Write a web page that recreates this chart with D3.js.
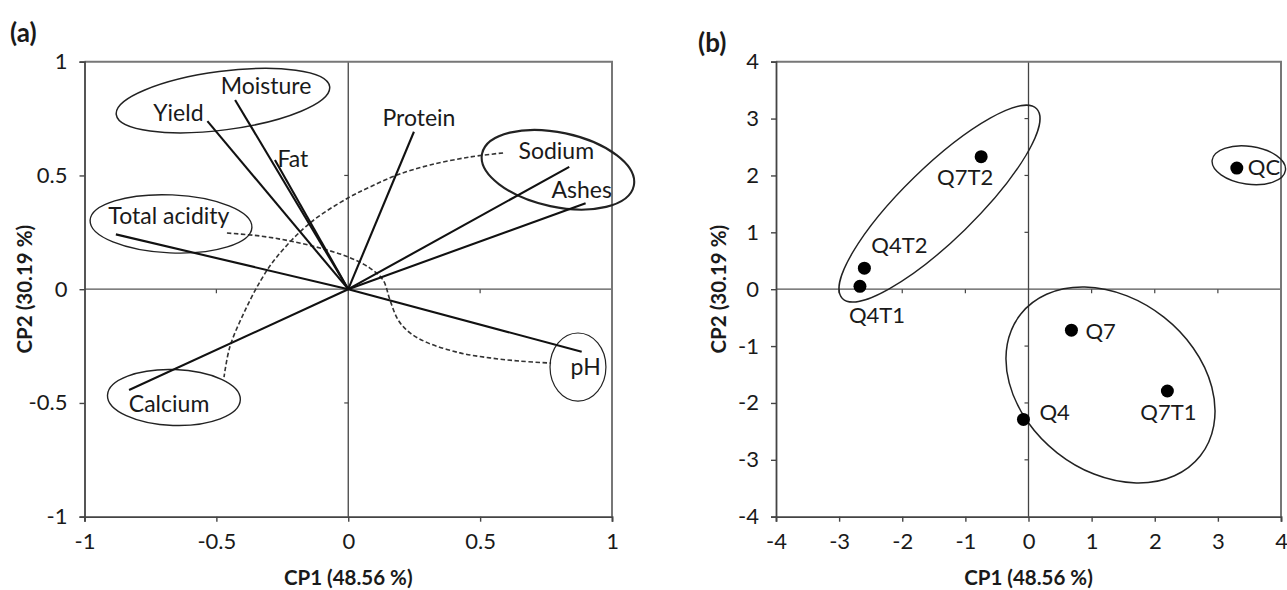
<!DOCTYPE html>
<html><head><meta charset="utf-8">
<script src="https://cdn.jsdelivr.net/npm/d3@7"></script>
<style>
html,body{margin:0;padding:0;background:#fff;}
svg{display:block;font-family:Lato,"Open Sans",sans-serif;}
</style></head>
<body>
<svg id="c" width="1287" height="590"></svg>
<script>
// ---------- Panel (a): variable loadings ----------
const variables = ["Yield","Moisture","Fat","Protein","Sodium","Ashes","Total acidity","Calcium","pH"];
const cp1Load = [-0.534,-0.429,-0.278,0.249,0.838,0.900,-0.881,-0.831,0.885];
const cp2Load = [0.739,0.832,0.568,0.692,0.538,0.378,0.241,-0.443,-0.275];
// label offsets (px) from vector tips
const labelOffA = [[-29,-8],[31,-14],[18,-1],[5,-14],[-13,-16],[-4,-13],[53,-18],[40,14],[4,15]];
const ticksA = [-1,-0.5,0,0.5,1];
const tickLabelsA = ["-1","-0.5","0","0.5","1"];

// group ellipses in panel (a): centre (data), semi-axes (data units), rotation (deg)
const ellA_cx = [-0.475,-0.672,0.795,-0.661,0.871];
const ellA_cy = [0.829,0.287,0.525,-0.476,-0.342];
const ellA_rx = [0.408,0.307,0.294,0.252,0.106];
const ellA_ry = [0.111,0.110,0.141,0.106,0.129];
const ellA_rot = [-7.5,2.5,12,2,0];

// dashed connectors (data coordinates)
const dash1X = [0.587,0.461,0.310,0.185,0.082,-0.001,-0.145,-0.271,-0.331,-0.396,-0.449,-0.471];
const dash1Y = [0.599,0.581,0.546,0.502,0.449,0.401,0.291,0.142,0.040,-0.105,-0.254,-0.386];
const dash2X = [-0.460,-0.335,-0.221,-0.107,-0.001,0.082,0.132,0.158,0.189,0.234,0.302,0.424,0.537,0.651,0.769];
const dash2Y = [0.247,0.234,0.212,0.181,0.142,0.093,0.040,-0.047,-0.135,-0.192,-0.236,-0.280,-0.302,-0.316,-0.325];

// ---------- Panel (b): sample scores ----------
const samples = ["Q7T2","Q4T2","Q4T1","QC","Q7","Q7T1","Q4"];
const cp1Score = [-0.75,-2.60,-2.67,3.30,0.68,2.20,-0.08];
const cp2Score = [2.33,0.37,0.05,2.13,-0.72,-1.79,-2.29];
const labelOffB = [[-16,21,"middle"],[35,-23,"middle"],[17,29,"middle"],[11,-1,"start"],[14,1,"start"],[1,21,"middle"],[16,-7,"start"]];
const ticksB = [-4,-3,-2,-1,0,1,2,3,4];
const tickLabelsB = ["-4","-3","-2","-1","0","1","2","3","4"];

const ellB_cx = [-1.41,1.299,3.49];
const ellB_cy = [1.505,-1.684,2.18];
const ellB_rx = [2.15,1.812,0.586];
const ellB_ry = [0.577,1.367,0.30];
const ellB_rot = [-44.3,38.2,8];

const xTitle = "CP1 (48.56 %)";
const yTitle = "CP2 (30.19 %)";

const svg = d3.select("#c");
const TXT = "#1a1a1a";

function panel(opts){
  const {x, y, ticks, tickLabels, tag, tagX, tagY, ytX} = opts;
  const g = svg.append("g");
  const [x0,x1] = x.range(), [y0,y1] = y.range(); // y0 bottom, y1 top
  // zero lines
  g.append("line").attr("x1",x0).attr("x2",x1).attr("y1",y(0)).attr("y2",y(0))
    .attr("stroke","#555").attr("stroke-width",1.3);
  g.append("line").attr("x1",x(0)).attr("x2",x(0)).attr("y1",y0).attr("y2",y1)
    .attr("stroke","#444").attr("stroke-width",1.3);
  // ticks on zero lines
  ticks.forEach(t=>{
    if(t===0||t===ticks[0]||t===ticks[ticks.length-1]) return;
    g.append("line").attr("x1",x(t)).attr("x2",x(t)).attr("y1",y(0)).attr("y2",y(0)+4)
      .attr("stroke","#444").attr("stroke-width",1.2);
    g.append("line").attr("x1",x(0)-4).attr("x2",x(0)).attr("y1",y(t)).attr("y2",y(t))
      .attr("stroke","#444").attr("stroke-width",1.2);
  });
  // frame: top & right (plot border)
  g.append("path").attr("d",`M${x0},${y1}H${x1}V${y0}`).attr("fill","none")
    .attr("stroke","#777").attr("stroke-width",2);
  // left & bottom axes via d3 axes
  const ax = d3.axisBottom(x).tickValues(ticks).tickFormat((d,i)=>tickLabels[i]).tickSizeOuter(0).tickSize(5).tickPadding(12);
  const ay = d3.axisLeft(y).tickValues(ticks).tickFormat((d,i)=>tickLabels[i]).tickSizeOuter(0).tickSize(5).tickPadding(12);
  const gx = g.append("g").attr("transform",`translate(0,${y0})`).call(ax);
  const gy = g.append("g").attr("transform",`translate(${x0},0)`).call(ay);
  [gx,gy].forEach(a=>{
    a.select(".domain").attr("stroke","#444").attr("stroke-width",1.8);
    a.selectAll(".tick line").attr("stroke","#444").attr("stroke-width",1.4);
    a.selectAll(".tick text").attr("fill",TXT).style("font-size","22px").style("font-family","Lato");
  });
  gx.selectAll(".tick text").attr("dy","0.71em");
  // titles
  g.append("text").attr("x",(x0+x1)/2).attr("y",585).attr("text-anchor","middle")
    .style("font-weight","bold").style("font-size","20.5px").attr("fill",TXT).text(xTitle);
  g.append("text").attr("transform",`translate(${ytX},${(y0+y1)/2}) rotate(-90)`)
    .attr("text-anchor","middle").attr("dy","0.35em")
    .style("font-weight","bold").style("font-size","20.5px").attr("fill",TXT).text(yTitle);
  g.append("text").attr("x",tagX).attr("y",tagY).style("font-weight","bold")
    .style("font-size","26px").attr("fill",TXT).text(tag);
  return g;
}

function ellipses(g, x, y, cx, cy, rx, ry, rot, sw){
  const unit = x(1)-x(0);
  cx.forEach((c,i)=>{
    g.append("ellipse").attr("cx",0).attr("cy",0)
      .attr("rx",rx[i]*unit).attr("ry",ry[i]*unit)
      .attr("transform",`translate(${x(c)},${y(cy[i])}) rotate(${rot[i]})`)
      .attr("fill","none").attr("stroke","#222").attr("stroke-width",sw[i]);
  });
}

// ----- Panel a -----
const xa = d3.scaleLinear().domain([-1,1]).range([84.5,612]);
const ya = d3.scaleLinear().domain([-1,1]).range([516.7,61.7]);
const ga = panel({x:xa,y:ya,ticks:ticksA,tickLabels:tickLabelsA,tag:"(a)",tagX:10,tagY:42,ytX:25});

const lineGen = d3.line().curve(d3.curveCatmullRom.alpha(0.5));
[[dash1X,dash1Y],[dash2X,dash2Y]].forEach(([dx,dy])=>{
  ga.append("path").attr("d",lineGen(dx.map((v,i)=>[xa(v),ya(dy[i])])))
    .attr("fill","none").attr("stroke","#333").attr("stroke-width",1.6)
    .attr("stroke-dasharray","4.5,2.5");
});
ellipses(ga, xa, ya, ellA_cx, ellA_cy, ellA_rx, ellA_ry, ellA_rot, [1.5,1.4,2.1,1.4,1.2]);

variables.forEach((v,i)=>{
  ga.append("line").attr("x1",xa(0)).attr("y1",ya(0))
    .attr("x2",xa(cp1Load[i])).attr("y2",ya(cp2Load[i]))
    .attr("stroke","#111").attr("stroke-width",2.1);
  ga.append("text").attr("x",xa(cp1Load[i])+labelOffA[i][0]).attr("y",ya(cp2Load[i])+labelOffA[i][1])
    .attr("dy","0.35em").attr("text-anchor","middle").style("font-size","23px")
    .attr("fill",TXT).text(v);
});

// ----- Panel b -----
const xb = d3.scaleLinear().domain([-4,4]).range([776,1281]);
const yb = d3.scaleLinear().domain([-4,4]).range([516.7,61.7]);
const gb = panel({x:xb,y:yb,ticks:ticksB,tickLabels:tickLabelsB,tag:"(b)",tagX:698,tagY:52,ytX:719});
ellipses(gb, xb, yb, ellB_cx, ellB_cy, ellB_rx, ellB_ry, ellB_rot, [1.4,1.5,1.4]);
samples.forEach((s,i)=>{
  gb.append("circle").attr("cx",xb(cp1Score[i])).attr("cy",yb(cp2Score[i])).attr("r",6.5).attr("fill","#000");
  gb.append("text").attr("x",xb(cp1Score[i])+labelOffB[i][0]).attr("y",yb(cp2Score[i])+labelOffB[i][1])
    .attr("dy","0.35em").attr("text-anchor",labelOffB[i][2]).style("font-size","22px")
    .attr("fill",TXT).text(s);
});
</script>
</body></html>
